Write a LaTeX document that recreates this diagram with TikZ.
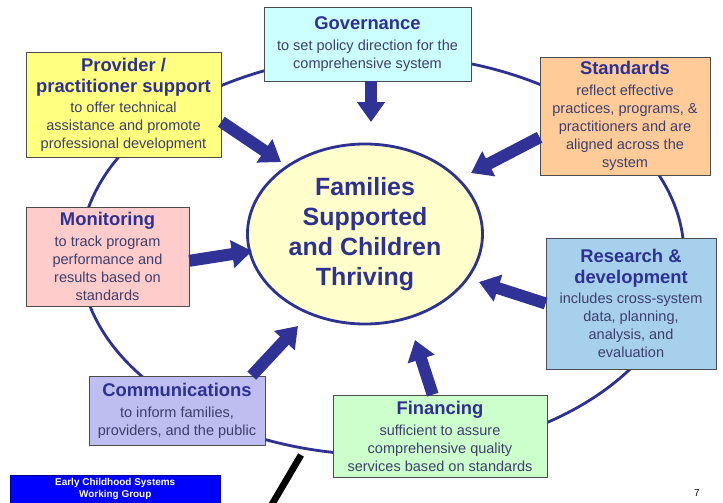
\documentclass[tikz,border=0pt]{standalone}
\usepackage{fontspec}
\setmainfont{Liberation Sans}
\usepackage{tikz}
\usetikzlibrary{arrows.meta}
\usetikzlibrary{shapes.geometric}
\usetikzlibrary{positioning}

\definecolor{ringblue}{RGB}{46,49,146}
\definecolor{arrowblue}{RGB}{48,50,150}
\definecolor{bodytext}{RGB}{62,62,108}
\definecolor{govfill}{RGB}{204,255,255}
\definecolor{provfill}{RGB}{255,255,128}
\definecolor{stdfill}{RGB}{255,204,153}
\definecolor{monfill}{RGB}{255,204,204}
\definecolor{resfill}{RGB}{166,208,236}
\definecolor{comfill}{RGB}{190,190,240}
\definecolor{finfill}{RGB}{204,255,204}
\definecolor{hubfill}{RGB}{255,255,204}
\definecolor{bannerblue}{RGB}{0,0,255}

\newcommand{\boxtitle}[1]{{\fontsize{15.7}{19}\selectfont\bfseries\color{ringblue}#1}}

\tikzset{
  box/.style={draw=black!70, line width=0.6pt, rectangle, align=center,
    inner sep=0pt, text=bodytext, font=\fontsize{12.4}{15.3}\selectfont},
  bigarrow/.style={arrowblue, line width=3.6mm,
    -{Triangle[width=8.1mm,length=6mm]}},
  ring/.style={draw=ringblue, line width=2.4pt},
}

\begin{document}
\begin{tikzpicture}[x=0.03cm, y=-0.03cm]
  \useasboundingbox (0,0) rectangle (723,503);

  \draw[ring] (382,255) ellipse [x radius=9.06cm, y radius=6cm];

  \node[ellipse, ring, fill=hubfill, minimum width=7.05cm, minimum height=5.4cm,
    inner sep=0pt, align=center, text=ringblue,
    font=\fontsize{21.3}{25.5}\selectfont\bfseries] (hub) at (365,234)
    {Families\\Supported\\and Children\\Thriving};

  \node[box, fill=govfill, minimum width=6.21cm, minimum height=2.22cm] (gov) at (367.5,44)
    {\boxtitle{Governance}\\[2.6pt]to set policy direction for the\\comprehensive system};
  \node[box, fill=provfill, minimum width=5.85cm, minimum height=3.15cm] (prov) at (123.5,104.5)
    {\boxtitle{Provider /}\\[2.6pt]\boxtitle{practitioner support}\\[2pt]to offer technical\\assistance and promote\\professional development};
  \node[box, fill=stdfill, minimum width=5.1cm, minimum height=3.54cm] (std) at (625,116)
    {\boxtitle{Standards}\\[2.6pt]reflect effective\\practices, programs, \&\\practitioners and are\\aligned across the\\system};
  \node[box, fill=monfill, minimum width=4.89cm, minimum height=2.97cm] (mon) at (107.5,256.5)
    {\boxtitle{Monitoring}\\[2.6pt]to track program\\performance and\\results based on\\standards};
  \node[box, fill=resfill, minimum width=5.1cm, minimum height=3.93cm] (res) at (631,303.5)
    {\boxtitle{Research \&}\\[2.6pt]\boxtitle{development}\\[2pt]includes cross-system\\data, planning,\\analysis, and\\evaluation};
  \node[box, fill=comfill, minimum width=5.28cm, minimum height=2.07cm] (com) at (177,410.5)
    {\boxtitle{Communications}\\[2.6pt]to inform families,\\providers, and the public};
  \node[box, fill=finfill, minimum width=6.42cm, minimum height=2.46cm] (fin) at (440,436)
    {\boxtitle{Financing}\\[2.6pt]sufficient to assure\\comprehensive quality\\services based on standards};

  \coordinate (tgov) at (371,122);
  \coordinate (tprov) at (281,162);
  \coordinate (tstd) at (471,173);
  \coordinate (tmon) at (252,251);
  \coordinate (tres) at (479,282);
  \coordinate (tcom) at (298,326);
  \coordinate (tfin) at (415,340);

  \draw[bigarrow] (gov.south -| tgov) -- (tgov);
  \draw[bigarrow] (prov.-10) -- (tprov);
  \draw[bigarrow] (std.194) -- (tstd);
  \draw[bigarrow] (mon.-3) -- (tmon);
  \draw[bigarrow] (res.west) -- (tres);
  \draw[bigarrow] (com.25) -- (tcom);
  \draw[bigarrow] (fin.100) -- (tfin);

  \node[draw=blue!60!black, fill=bannerblue, text=white, align=center, inner sep=0pt,
    minimum width=6.3cm, minimum height=0.84cm, anchor=north west,
    font=\fontsize{8.5}{10.2}\selectfont\bfseries] (banner) at (10,475)
    {Early Childhood Systems\\Working Group};

  \node[font=\fontsize{8.5}{10}\selectfont] (pagenum) at (697,493) {7};

  \draw[black, line width=2mm] (301,455) -- (271,506);
\end{tikzpicture}
\end{document}
